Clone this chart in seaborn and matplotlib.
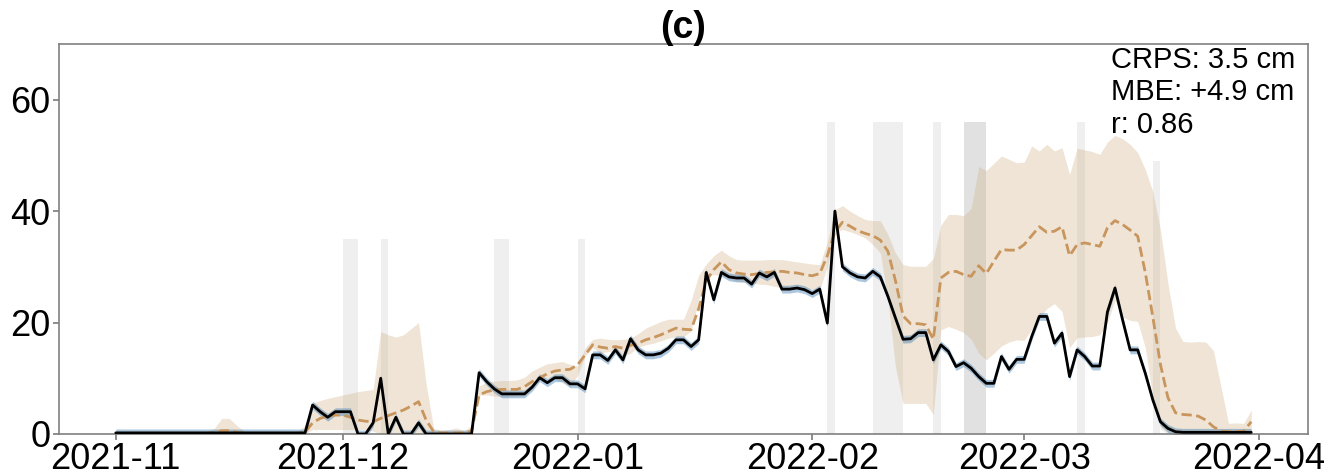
import numpy as np, pandas as pd, matplotlib
matplotlib.use("Agg")
import matplotlib.pyplot as plt, matplotlib.dates as mdates
import seaborn as sns

# daily values, 2021-11-01 .. 2022-03-31 (rows of 10 days)
obs = [0.2]*10 + [0.2]*10 + \
    [0.2, 0.2, 0.2, 0.2, 0.2, 0.2, 5.2, 4.0, 3.0, 4.0] + \
    [4.0, 4.0, 0, 0, 2.0, 10.0, 0, 3.0, 0, 0] + \
    [2.0, 0, 0, 0, 0, 0, 0, 0, 11.0, 9.4] + \
    [8.1, 7.2, 7.2, 7.2, 7.2, 8.4, 10.1, 9.2, 10.1, 10.1] + \
    [9.0, 9.0, 8.1, 14.2, 14.2, 13.2, 15.1, 13.3, 17.1, 15.1] + \
    [14.2, 14.2, 14.5, 15.4, 16.9, 16.9, 15.7, 16.9, 29.0, 24.1] + \
    [29.0, 28.2, 28.0, 28.0, 26.9, 28.9, 28.2, 29.0, 26.0, 26.0] + \
    [26.2, 25.9, 25.2, 26.0, 19.9, 40.0, 30.0, 28.9, 28.2, 28.0] + \
    [29.2, 28.2, 24.7, 20.8, 17.0, 17.1, 18.2, 18.2, 13.3, 16.0] + \
    [14.8, 12.1, 12.8, 11.8, 10.3, 9.1, 9.1, 13.9, 11.6, 13.4] + \
    [13.4, 17.5, 21.1, 21.1, 16.3, 18.1, 10.3, 15.1, 13.9, 12.2] + \
    [12.2, 21.9, 26.2, 20.5, 15.1, 15.1, 10.9, 6.1, 2.2, 1.0] + \
    [0.4] + [0.3]*10

pred_mean = [0.1]*10 + \
    [0.1, 0.1, 0.1, 0.2, 0.6, 0.6, 0.3, 0.1, 0.1, 0.1] + \
    [0.1, 0.1, 0.1, 0.1, 0.1, 0.3, 2.0, 2.8, 3.2, 3.4] + \
    [3.4, 3.0, 2.5, 2.3, 2.2, 2.8, 3.3, 3.8, 4.3, 5.0] + \
    [5.8, 2.5, 0.4, 0.2, 0.2, 0.2, 0.2, 0.5, 7.0, 7.6] + \
    [7.9, 8.0, 8.0, 8.0, 8.5, 9.4, 10.1, 10.8, 11.3, 11.5] + \
    [11.6, 12.4, 14.2, 16.0, 15.6, 15.4, 15.7, 15.4, 15.9, 16.3] + \
    [16.9, 17.3, 17.8, 18.4, 19.0, 18.8, 18.7, 22.5, 27.5, 29.5] + \
    [30.9, 29.5, 28.9, 28.7, 28.6, 28.8, 29.0, 29.1, 29.2, 29.0] + \
    [28.9, 28.6, 28.4, 28.8, 32.0, 36.3, 38.0, 37.3, 36.5, 36.0] + \
    [35.6, 34.8, 32.8, 27.5, 21.2, 19.8, 19.8, 19.6, 17.0, 28.0] + \
    [29.0, 29.2, 28.6, 28.3, 30.2, 28.8, 31.0, 33.1, 33.0, 33.0] + \
    [34.0, 35.6, 37.2, 36.2, 36.4, 37.2, 32.0, 34.0, 34.3, 34.0] + \
    [33.7, 37.0, 38.3, 37.6, 36.6, 35.5, 29.0, 21.0, 12.5, 6.5] + \
    [3.8, 3.5, 3.4, 3.2, 2.5, 1.3, 0.5, 0.4, 0.4, 0.5, 2.2]

pred_hi = [0.5]*10 + \
    [0.5, 0.5, 0.5, 1.0, 2.8, 2.8, 1.5, 0.5, 0.5, 0.5] + \
    [0.5, 0.5, 0.5, 0.5, 0.5, 1.5, 5.6, 6.0, 6.4, 6.7] + \
    [7.0, 7.3, 7.6, 7.8, 8.0, 18.4, 17.8, 17.4, 17.8, 18.9] + \
    [20.0, 9.0, 1.0, 0.6, 0.8, 1.1, 0.6, 1.5, 8.6, 9.3] + \
    [9.5, 9.6, 9.6, 9.7, 10.2, 11.3, 12.0, 12.6, 12.8, 13.0] + \
    [12.5, 12.2, 15.5, 17.0, 17.2, 17.0, 16.9, 17.0, 17.2, 18.0] + \
    [19.0, 19.6, 20.2, 20.6, 20.6, 20.6, 24.0, 28.5, 30.5, 32.0] + \
    [33.0, 32.0, 31.3, 31.2, 31.2, 31.2, 31.3, 31.3, 31.3, 31.1] + \
    [30.9, 30.7, 30.5, 30.4, 34.5, 40.2, 41.0, 40.0, 39.2, 38.5] + \
    [38.3, 38.3, 35.8, 32.5, 30.4, 30.1, 30.1, 30.1, 31.5, 37.5] + \
    [39.4, 39.4, 39.2, 40.5, 48.0, 47.3, 48.6, 49.9, 49.3, 48.7] + \
    [48.8, 51.7, 50.8, 52.0, 50.8, 51.4, 46.6, 51.3, 51.0, 50.7] + \
    [50.2, 52.4, 53.6, 53.0, 52.0, 50.5, 47.5, 43.5, 36.7, 27.0] + \
    [19.0, 16.6, 16.5, 16.6, 16.5, 15.0, 8.5, 1.9, 2.0, 1.9, 4.3]

pred_lo = [0]*20 + \
    [0, 0, 0, 0, 0, 0, 0.8, 0.8, 0.8, 0.8] + \
    [0.8, 0.8, 0.8, 0.8, 0.5, 0, 0, 0, 0, 0] + \
    [0, 0, 0, 0, 0, 0, 0, 0, 7.0, 7.0] + \
    [6.8, 6.7, 6.7, 6.8, 6.8, 8.2, 9.7, 9.9, 9.9, 9.2] + \
    [8.5, 10.5, 14.0, 15.5, 14.5, 14.8, 14.9, 14.0, 14.5, 15.6] + \
    [16.0, 16.3, 16.7, 17.2, 17.4, 17.4, 18.5, 24.0, 28.5, 28.6] + \
    [28.4, 27.9, 27.4, 27.2, 27.1, 26.9, 26.8, 26.5, 26.3, 26.2] + \
    [26.1, 26.0, 26.0, 25.9, 30.0, 36.1, 36.7, 36.3, 35.8, 35.2] + \
    [34.0, 32.5, 24.0, 12.0, 5.5, 5.5, 5.5, 5.5, 3.5, 18.7] + \
    [19.3, 18.8, 18.2, 17.0, 14.5, 13.3, 14.5, 15.8, 16.5, 16.9] + \
    [16.8, 18.8, 20.8, 22.5, 23.4, 22.0, 15.5, 17.3, 17.4, 17.5] + \
    [17.8, 20.0, 24.0, 21.0, 20.4, 20.2, 15.5, 6.5, 1.0, 0] + \
    [0]*11

# shaded periods
span_start = ["2021-12-01", "2021-12-06", "2021-12-21", "2022-01-01", "2022-02-03", "2022-02-09",
              "2022-02-17", "2022-02-21", "2022-02-21", "2022-03-08", "2022-03-18"]
span_end = ["2021-12-03", "2021-12-07", "2021-12-23", "2022-01-02", "2022-02-04", "2022-02-13",
            "2022-02-18", "2022-02-24", "2022-02-24", "2022-03-09", "2022-03-19"]
span_top = [35, 35, 35, 35, 56, 56, 56, 56, 56, 56, 49]

stats_text = "CRPS: 3.5 cm\nMBE: +4.9 cm\nr: 0.86"

dates = pd.date_range("2021-11-01", "2022-03-31", freq="D")
df = pd.DataFrame({"date": dates, "obs": obs, "mean": pred_mean, "lo": pred_lo, "hi": pred_hi})

sns.set_theme(style="white")
plt.rcParams["font.family"] = ["Liberation Sans", "DejaVu Sans"]

fig = plt.figure(figsize=(13.41, 4.74), dpi=100)
ax = fig.add_axes([0.044, 0.0844, 0.9314, 0.8228])

for s, e, t in zip(span_start, span_end, span_top):
    ax.fill_between(pd.to_datetime([s, e]), 0, t, color="grey", alpha=0.12, lw=0, zorder=0)

ax.fill_between(df.date, df.lo, df.hi, color="tan", alpha=0.35, lw=0, zorder=1)
ax.fill_between(df.date, df.obs - 0.7, df.obs + 0.7, color="steelblue", alpha=0.45, lw=0, zorder=2)
sns.lineplot(data=df, x="date", y="mean", ax=ax, color="#c8955c", lw=2, ls="--", zorder=3)
sns.lineplot(data=df, x="date", y="obs", ax=ax, color="black", lw=2, zorder=4)

ax.set_ylim(0, 70)
ax.set_yticks([0, 20, 40, 60])
ax.xaxis.set_major_locator(mdates.MonthLocator())
ax.xaxis.set_major_formatter(mdates.DateFormatter("%Y-%m"))
ax.set_xlabel(""); ax.set_ylabel("")
ax.tick_params(labelsize=26, length=4, color="grey", labelcolor="black", pad=2,
               bottom=True, left=True)
for sp in ax.spines.values():
    sp.set_color("grey"); sp.set_linewidth(1.2)

ax.set_title("(c)", fontsize=27, fontweight="bold", color="black", pad=4)
ax.text(0.99, 0.995, stats_text, transform=ax.transAxes, ha="right", va="top",
        multialignment="left", fontsize=21, linespacing=1.2, color="black")

plt.savefig("out.png", dpi=100)
